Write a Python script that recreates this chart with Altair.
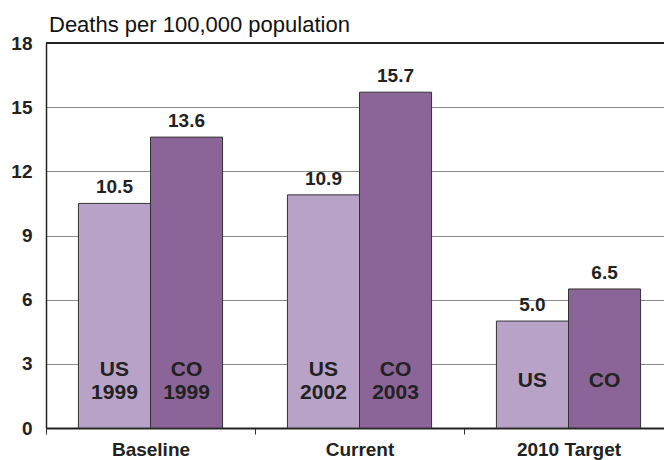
import altair as alt
import pandas as pd

# Injury death rates, baseline vs current vs 2010 target
groups = ["Baseline", "Current", "2010 Target"]
series = ["US", "CO"]
us_values = [10.5, 10.9, 5.0]
co_values = [13.6, 15.7, 6.5]
us_tags = ["US\n1999", "US\n2002", "US"]
co_tags = ["CO\n1999", "CO\n2003", "CO"]
y_ticks = [0, 3, 6, 9, 12, 15, 18]

rows = []
for g, u, c, ut, ct in zip(groups, us_values, co_values, us_tags, co_tags):
    rows.append({"group": g, "series": "US", "value": u, "tag": ut, "label": f"{u:.1f}"})
    rows.append({"group": g, "series": "CO", "value": c, "tag": ct, "label": f"{c:.1f}"})
df = pd.DataFrame(rows)

FONT = "Liberation Sans"

x = alt.X(
    "group:N",
    sort=groups,
    scale=alt.Scale(range=[0, 627], paddingInner=0, paddingOuter=0),
    axis=alt.Axis(
        title=None,
        labelAngle=0,
        tickBand="extent",
        tickSize=6,
        tickColor="#333333",
        domainColor="#222222",
        domainWidth=2,
        labelFont=FONT,
        labelFontSize=19,
        labelFontWeight="bold",
        labelColor="#222222",
        labelPadding=6,
        grid=False,
    ),
)
xo = alt.XOffset("series:N", sort=series, scale=alt.Scale(paddingOuter=0.45, paddingInner=0))
y = alt.Y(
    "value:Q",
    scale=alt.Scale(domain=[0, 18], nice=False),
    axis=alt.Axis(
        title=None,
        values=y_ticks,
        ticks=False,
        labelFont=FONT,
        labelFontSize=19,
        labelFontWeight="bold",
        labelColor="#222222",
        labelPadding=14,
        domainColor="#222222",
        domainWidth=1.5,
        gridColor="#8a8a8a",
        gridWidth=1,
    ),
)
color = alt.Color(
    "series:N",
    sort=series,
    scale=alt.Scale(domain=series, range=["#B9A2C8", "#8B6597"]),
    legend=None,
)

base = alt.Chart(df)

bars = base.mark_bar(stroke="#333333", strokeWidth=1).encode(x=x, xOffset=xo, y=y, color=color)

values = base.mark_text(
    font=FONT, fontSize=19, fontWeight="bold", color="#222222", baseline="bottom", dy=-6
).encode(x=x, xOffset=xo, y=y, text="label:N")

# in-bar tags: one- or two-line blocks centred a little above the baseline
tags = base.transform_calculate(
    tag_y="2.2 + 0.5 * (length(split(datum.tag, '\\n')) - 1)"
).mark_text(
    font=FONT, fontSize=21, fontWeight="bold", color="#222222",
    baseline="middle", lineBreak="\n", lineHeight=23,
).encode(
    x=x, xOffset=xo,
    y=alt.Y("tag_y:Q", scale=alt.Scale(domain=[0, 18], nice=False)),
    text="tag:N",
)

top_line = alt.Chart(pd.DataFrame({"v": [18]})).mark_rule(
    color="#222222", strokeWidth=2
).encode(y=alt.Y("v:Q", scale=alt.Scale(domain=[0, 18], nice=False)))

chart = (
    alt.layer(bars, values, tags, top_line)
    .properties(
        width=618,
        height=385,
        autosize=alt.AutoSizeParams(type="none"),
        padding={"left": 46, "top": 43, "right": 0, "bottom": 32},
        title=alt.TitleParams(
            "Deaths per 100,000 population",
            anchor="start",
            frame="group",
            font=FONT,
            fontSize=22,
            fontWeight="normal",
            color="#111111",
            baseline="alphabetic",
            offset=4,
            dx=3,
            dy=24,
        ),
    )
    .configure_view(stroke=None)
    .configure(background="white")
)

chart.save("out.html", embed_options={"renderer": "svg", "actions": False})
